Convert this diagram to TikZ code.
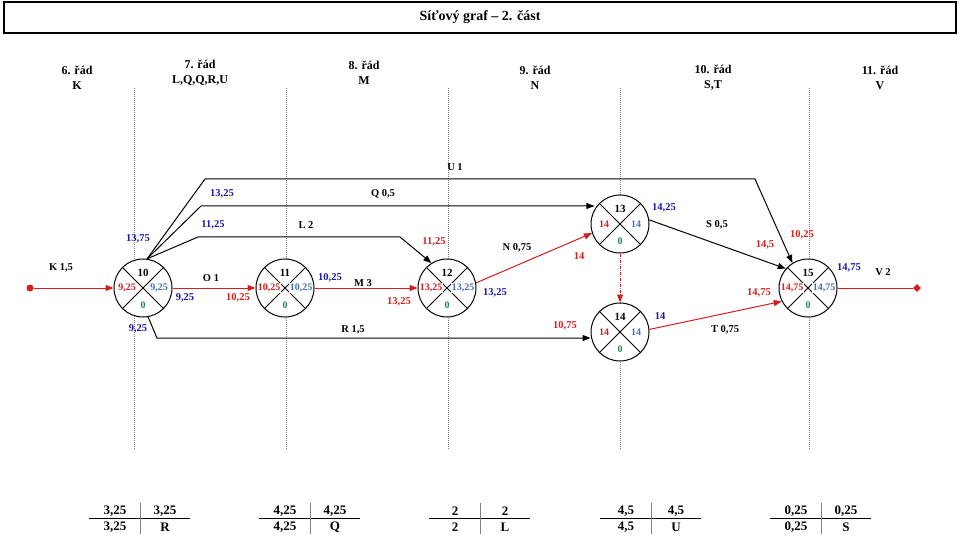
\documentclass[tikz,border=0pt]{standalone}
\usepackage{fontspec}
\setmainfont{Liberation Serif}
\usetikzlibrary{arrows.meta,shapes.geometric}

\definecolor{cervena}{RGB}{215,30,30}
\definecolor{modra}{RGB}{25,25,165}
\definecolor{svmodra}{RGB}{70,110,190}
\definecolor{zelena}{RGB}{40,130,90}

\tikzset{
  uzel/.style={circle, draw, line width=1pt, fill=white, minimum size=58pt, inner sep=0pt},
  vnitr/.style={fill=white, inner sep=0.5pt, font=\fontsize{10}{11}\selectfont\bfseries},
  popis/.style={font=\fontsize{10.5}{12}\selectfont\bfseries},
  hrana/.style={line width=1pt, line join=round, -{Triangle[length=8pt,width=6pt]}},
  kriticka/.style={hrana, cervena},
  radka/.style={gray, line width=0.6pt, dash pattern=on 1pt off 1pt},
  tab/.style={font=\fontsize{13}{14}\selectfont\bfseries},
  rad/.style={align=center, font=\fontsize{12}{15}\selectfont\bfseries}
}

% uzel: jmeno, x, y, cislo, vlevo, vpravo, dole
\newcommand{\udalost}[7]{%
  \node[uzel] (#1) at (#2,#3) {};
  \draw[line width=1pt] (#1.45) -- (#1.225) (#1.135) -- (#1.315);
  \node[vnitr, font=\fontsize{11}{12}\selectfont\bfseries] (#1c) at ([yshift=15pt]#1.center) {#4};
  \node[vnitr, text=cervena] (#1l) at ([xshift=-16pt]#1.center) {#5};
  \node[vnitr, text=svmodra] (#1p) at ([xshift=16pt]#1.center) {#6};
  \node[vnitr, text=zelena] (#1d) at ([yshift=-17pt]#1.center) {#7};
}

% tabulka: jmeno, x deleni, vlevo nahore, vpravo nahore, vlevo dole, vpravo dole
\newcommand{\tabulka}[6]{%
  \coordinate (#1) at (#2,518);
  \draw[line width=0.8pt] ([xshift=-51pt]#1) -- ([xshift=50pt]#1);
  \draw[line width=0.8pt, gray] ([yshift=15pt]#1) -- ([yshift=-16pt]#1);
  \node[tab] (#1a) at ([shift={(-25pt,7pt)}]#1) {#3};
  \node[tab] (#1b) at ([shift={(25pt,7pt)}]#1) {#4};
  \node[tab] (#1c) at ([shift={(-25pt,-9pt)}]#1) {#5};
  \node[tab] (#1d) at ([shift={(25pt,-9pt)}]#1) {#6};
}

\begin{document}
\begin{tikzpicture}[x=1pt, y=-1pt, font=\bfseries]
    \useasboundingbox (0,0) rectangle (960,537);

    % Nadpis
    \node[draw, line width=1.2pt, minimum width=952pt, minimum height=31pt,
          font=\fontsize{14}{16}\selectfont\bfseries] (nadpis) at (480,17.5) {Síťový graf – 2. část};

    % Rady
    \node[rad] (r6) at (77,78) {6. řád\\K};
    \node[rad] (r7) at (200,73) {7. řád\\L,Q,Q,R,U};
    \node[rad] (r8) at (364,73) {8. řád\\M};
    \node[rad] (r9) at (535,78) {9. řád\\N};
    \node[rad] (r10) at (713,78) {10. řád\\S,T};
    \node[rad] (r11) at (880,78) {11. řád\\V};

    % Svisle carky
    \foreach \x in {134,286,448,620,809}
        \draw[radka] (\x,88) -- (\x,450);

    % Uzly
    \udalost{n10}{143}{288}{10}{9,25}{9,25}{0}
    \udalost{n11}{285}{288}{11}{10,25}{10,25}{0}
    \udalost{n12}{447}{288}{12}{13,25}{13,25}{0}
    \udalost{n13}{620}{224}{13}{14}{14}{0}
    \udalost{n14}{620}{332}{14}{14}{14}{0}
    \udalost{n15}{808}{288}{15}{14,75}{14,75}{0}

    % Zacatek a konec
    \node[circle, fill=cervena, inner sep=0pt, minimum size=7pt] (start) at (30,288) {};
    \node[diamond, fill=cervena, inner sep=0pt, minimum size=8pt] (konec) at (917,288) {};

    % Kriticka cesta
    \draw[kriticka] (start) -- (n10.west);
    \draw[kriticka] (n10.east) -- (n11.west);
    \draw[kriticka] (n11.east) -- (n12.west);
    \draw[kriticka] (n12.10) -- (n13.198);
    \draw[kriticka, dashed] (n13.south) -- (n14.north);
    \draw[kriticka] (n14.5) -- (n15.207);
    \draw[cervena, line width=1pt] (n15.east) -- (konec);

    % Ostatni cinnosti
    \coordinate (u1) at (205,179);
    \coordinate (u2) at (755,179);
    \draw[hrana] (n10.82) -- (u1) -- (u2) -- (n15.122);
    \coordinate (q1) at (201,206);
    \draw[hrana] (n10.82) -- (q1) -- (n13.150 |- q1);
    \coordinate (l1) at (198,237);
    \coordinate (l2) at (400,237);
    \draw[hrana] (n10.82) -- (l1) -- (l2) -- (n12.122);
    \coordinate (r1) at (157,338);
    \draw[hrana] (n10.-80) -- (r1) -- (n14.west |- r1);
    \draw[hrana] (n13.8) -- (n15.139);

    % Popisy cinnosti
    \node[popis] (lK) at (61,268) {K 1,5};
    \node[popis] (lO) at (211,278) {O 1};
    \node[popis] (lU) at (455,167) {U 1};
    \node[popis] (lQ) at (383,194) {Q 0,5};
    \node[popis] (lL) at (306,225) {L 2};
    \node[popis] (lM) at (363,283) {M 3};
    \node[popis] (lN) at (517,248) {N 0,75};
    \node[popis] (lR) at (353,330) {R 1,5};
    \node[popis] (lS) at (717,225) {S 0,5};
    \node[popis] (lT) at (725,330) {T 0,75};
    \node[popis] (lV) at (883,272) {V 2};

    % Casy
    \node[popis, modra] (c1) at (138,239) {13,75};
    \node[popis, modra] (c2) at (222,194) {13,25};
    \node[popis, modra] (c3) at (213,225) {11,25};
    \node[popis, modra] (c4) at (185,298) {9,25};
    \node[popis, modra] (c5) at (138,329) {9,25};
    \node[popis, cervena] (c6) at (238,298) {10,25};
    \node[popis, modra] (c7) at (330,278) {10,25};
    \node[popis, cervena] (c8) at (399,302) {13,25};
    \node[popis, cervena] (c9) at (434,242) {11,25};
    \node[popis, modra] (c10) at (495,293) {13,25};
    \node[popis, cervena] (c11) at (579,256) {14};
    \node[popis, cervena] (c12) at (565,326) {10,75};
    \node[popis, modra] (c13) at (664,208) {14,25};
    \node[popis, modra] (c14) at (660,316) {14};
    \node[popis, cervena] (c15) at (765,245) {14,5};
    \node[popis, cervena] (c16) at (802,235) {10,25};
    \node[popis, cervena] (c17) at (759,293) {14,75};
    \node[popis, modra] (c18) at (849,268) {14,75};

    % Tabulky
    \tabulka{t1}{140}{3,25}{3,25}{3,25}{R}
    \tabulka{t2}{310}{4,25}{4,25}{4,25}{Q}
    \tabulka{t3}{480}{2}{2}{2}{L}
    \tabulka{t4}{651}{4,5}{4,5}{4,5}{U}
    \tabulka{t5}{821}{0,25}{0,25}{0,25}{S}
\end{tikzpicture}
\end{document}
